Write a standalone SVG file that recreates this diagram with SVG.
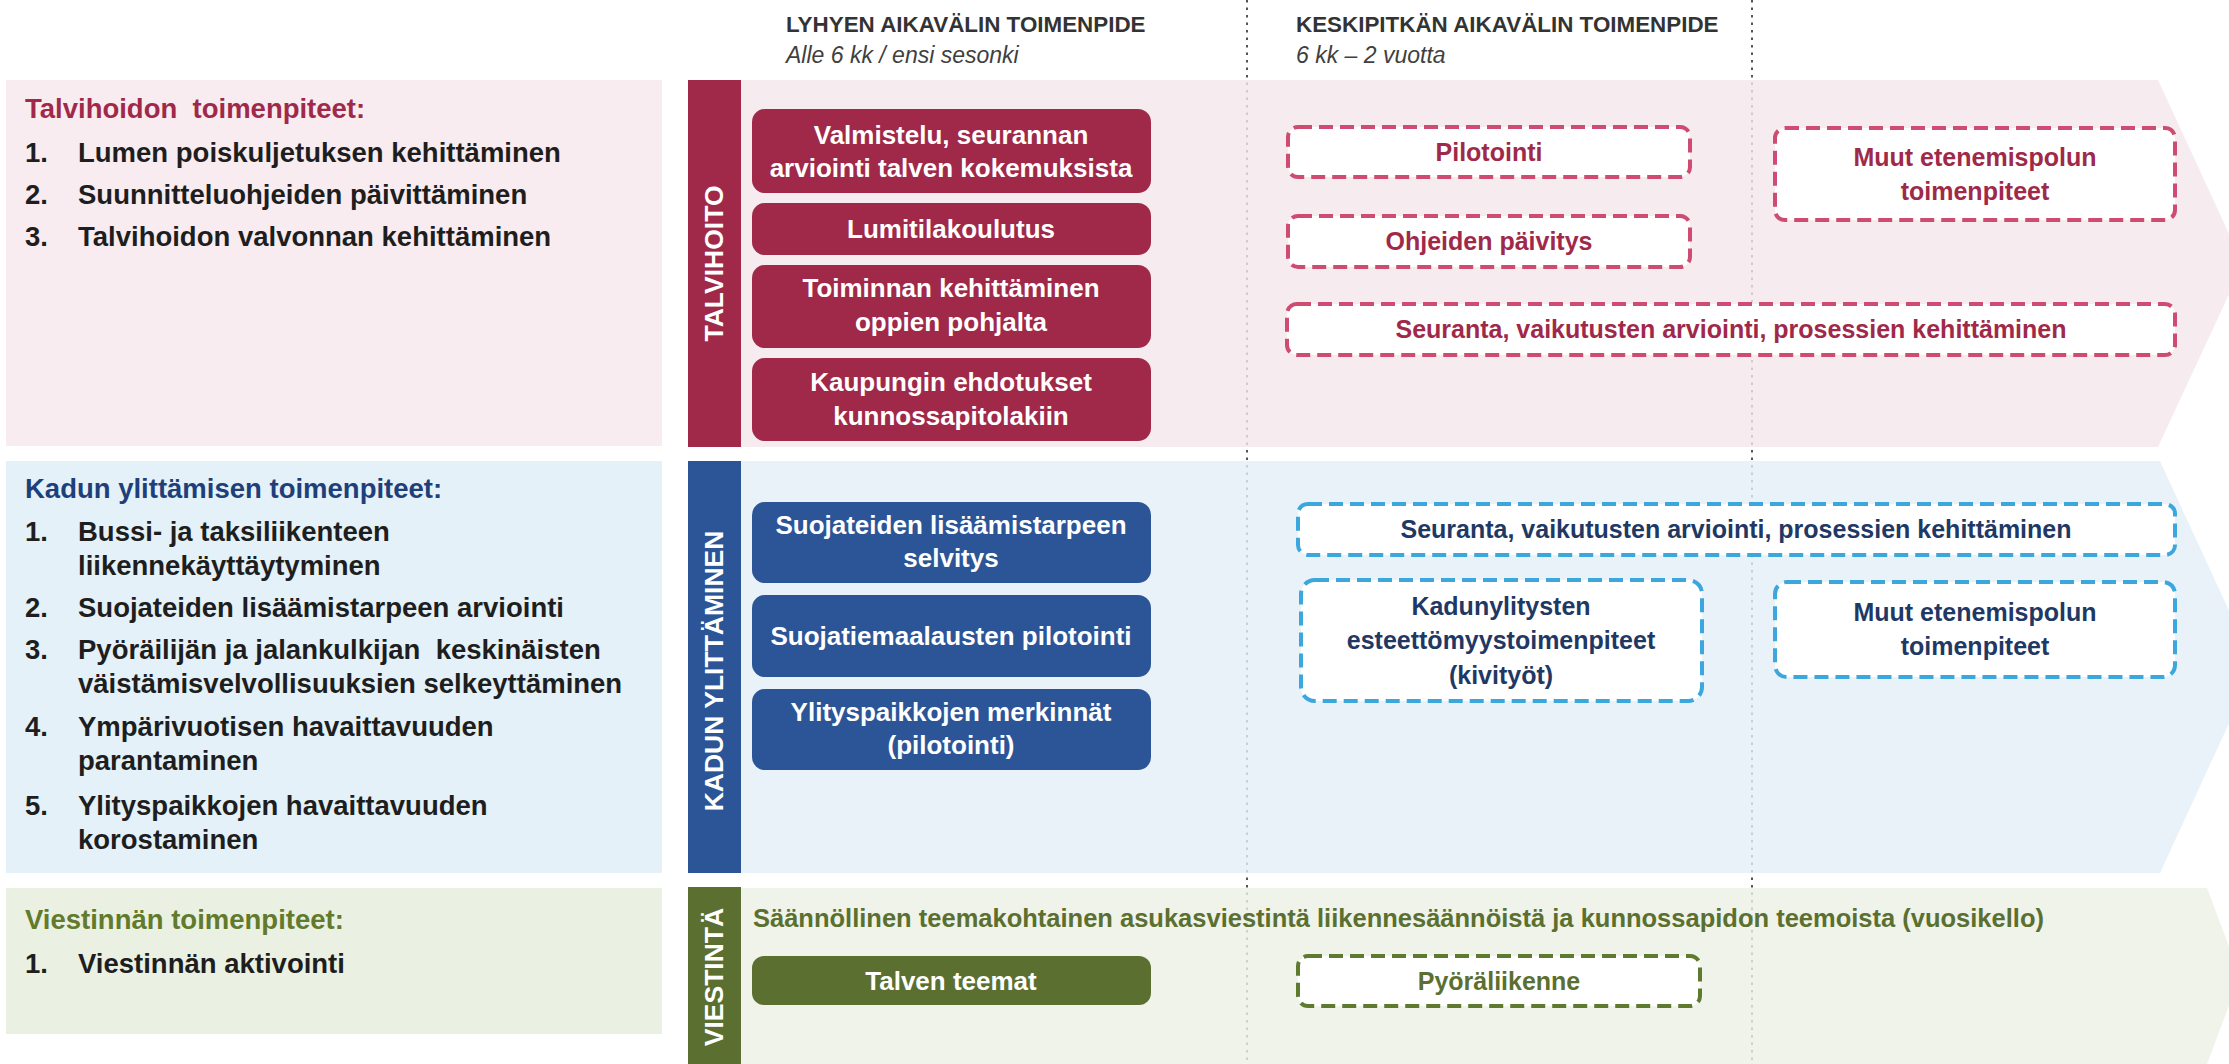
<svg xmlns="http://www.w3.org/2000/svg" width="2229" height="1064" viewBox="0 0 2229 1064">
<style>
text{font-family:"Liberation Sans",Arial,sans-serif;}
.hd{font-size:22.4px;font-weight:bold;fill:#333333;}
.sub{font-size:23px;font-style:italic;fill:#404040;}
.lt{font-size:27.5px;font-weight:bold;}
.li{font-size:27.5px;font-weight:bold;fill:#1e1e1e;}
.vl{font-size:26.5px;font-weight:bold;fill:#ffffff;text-anchor:middle;}
.bx{font-size:26px;font-weight:bold;fill:#ffffff;text-anchor:middle;}
.dt{font-size:25px;font-weight:bold;text-anchor:middle;}
.dash{fill:#ffffff;stroke-width:4;stroke-dasharray:14 7;}
.pk{fill:#A0294A;} .bl{fill:#2B5597;} .gr{fill:#5B7030;}
.dpk{stroke:#CF4B72;} .dbl{stroke:#3BA7DC;} .dgr{stroke:#5E7A2E;}
.tpk{fill:#A0294A;} .tbl{fill:#1F3864;} .tgr{fill:#5B7030;}
.div{stroke:#555555;stroke-width:2;stroke-dasharray:2.5 5;fill:none;}
</style>

<g id="dividers">
<line class="div" x1="1247" y1="0" x2="1247" y2="1064"/>
<line class="div" x1="1752" y1="0" x2="1752" y2="1064"/>
</g>

<g id="headers">
<text class="hd" x="786" y="32">LYHYEN AIKAVÄLIN TOIMENPIDE</text>
<text class="sub" x="786" y="63">Alle 6 kk / ensi sesonki</text>
<text class="hd" x="1296" y="32">KESKIPITKÄN AIKAVÄLIN TOIMENPIDE</text>
<text class="sub" x="1296" y="63">6 kk – 2 vuotta</text>
</g>

<g id="bands" fill-opacity="0.8">
<polygon points="741,80 2158,80 2243,264 2158,447 741,447" fill="#F4E6EB"/>
<polygon points="741,461 2160,461 2255,667 2160,873 741,873" fill="#E5EFF8"/>
<polygon points="741,888 2207,888 2240,976 2207,1064 741,1064" fill="#EBF0E4"/>
</g>

<g id="panel-talvihoito">
<rect x="6" y="80" width="656" height="366" fill="#F8ECF0"/>
<text class="lt" x="25" y="118" fill="#A0294A" xml:space="preserve">Talvihoidon  toimenpiteet:</text>
<text class="li" x="25" y="162">1.</text><text class="li" x="78" y="162">Lumen poiskuljetuksen kehittäminen</text>
<text class="li" x="25" y="204">2.</text><text class="li" x="78" y="204">Suunnitteluohjeiden päivittäminen</text>
<text class="li" x="25" y="246">3.</text><text class="li" x="78" y="246">Talvihoidon valvonnan kehittäminen</text>
</g>

<g id="panel-kadun">
<rect x="6" y="461" width="656" height="412" fill="#E4F1F8"/>
<text class="lt" x="25" y="498" fill="#1F3F7A">Kadun ylittämisen toimenpiteet:</text>
<text class="li" x="25" y="541">1.</text><text class="li" x="78" y="541">Bussi- ja taksiliikenteen</text>
<text class="li" x="78" y="575">liikennekäyttäytyminen</text>
<text class="li" x="25" y="617">2.</text><text class="li" x="78" y="617">Suojateiden lisäämistarpeen arviointi</text>
<text class="li" x="25" y="659">3.</text><text class="li" x="78" y="659" xml:space="preserve">Pyöräilijän ja jalankulkijan  keskinäisten</text>
<text class="li" x="78" y="693">väistämisvelvollisuuksien selkeyttäminen</text>
<text class="li" x="25" y="736">4.</text><text class="li" x="78" y="736">Ympärivuotisen havaittavuuden</text>
<text class="li" x="78" y="770">parantaminen</text>
<text class="li" x="25" y="815">5.</text><text class="li" x="78" y="815">Ylityspaikkojen havaittavuuden</text>
<text class="li" x="78" y="849">korostaminen</text>
</g>

<g id="panel-viestinta">
<rect x="6" y="888" width="656" height="146" fill="#EBF1E2"/>
<text class="lt" x="25" y="929" fill="#617A2C">Viestinnän toimenpiteet:</text>
<text class="li" x="25" y="973">1.</text><text class="li" x="78" y="973">Viestinnän aktivointi</text>
</g>

<g id="bar-talvihoito">
<rect class="pk" x="688" y="80" width="53" height="367"/>
<text class="vl" transform="translate(723,263.5) rotate(-90)">TALVIHOITO</text>
</g>
<g id="bar-kadun">
<rect class="bl" x="688" y="461" width="53" height="412"/>
<text class="vl" transform="translate(723,671) rotate(-90)">KADUN YLITTÄMINEN</text>
</g>
<g id="bar-viestinta">
<rect class="gr" x="688" y="887" width="53" height="177"/>
<text class="vl" transform="translate(723,977) rotate(-90)">VIESTINTÄ</text>
</g>

<g id="t-valmistelu">
<rect class="pk" x="752" y="109" width="399" height="84" rx="13"/>
<text class="bx" x="951" y="144">Valmistelu, seurannan</text>
<text class="bx" x="951" y="177">arviointi talven kokemuksista</text>
</g>
<g id="t-lumitila">
<rect class="pk" x="752" y="203" width="399" height="52" rx="13"/>
<text class="bx" x="951" y="238">Lumitilakoulutus</text>
</g>
<g id="t-toiminnan">
<rect class="pk" x="752" y="265" width="399" height="83" rx="13"/>
<text class="bx" x="951" y="297">Toiminnan kehittäminen</text>
<text class="bx" x="951" y="331">oppien pohjalta</text>
</g>
<g id="t-kaupungin">
<rect class="pk" x="752" y="358" width="399" height="83" rx="13"/>
<text class="bx" x="951" y="391">Kaupungin ehdotukset</text>
<text class="bx" x="951" y="425">kunnossapitolakiin</text>
</g>

<g id="t-pilotointi">
<rect class="dash dpk" x="1288" y="127" width="402" height="50" rx="10"/>
<text class="dt tpk" x="1489" y="161">Pilotointi</text>
</g>
<g id="t-ohjeiden">
<rect class="dash dpk" x="1288" y="216" width="402" height="51" rx="10"/>
<text class="dt tpk" x="1489" y="250">Ohjeiden päivitys</text>
</g>
<g id="t-muut">
<rect class="dash dpk" x="1775" y="128" width="400" height="92" rx="10"/>
<text class="dt tpk" x="1975" y="166">Muut etenemispolun</text>
<text class="dt tpk" x="1975" y="200">toimenpiteet</text>
</g>
<g id="t-seuranta">
<rect class="dash dpk" x="1287" y="304" width="888" height="51" rx="10"/>
<text class="dt tpk" x="1731" y="338">Seuranta, vaikutusten arviointi, prosessien kehittäminen</text>
</g>

<g id="k-suojateiden">
<rect class="bl" x="752" y="502" width="399" height="81" rx="13"/>
<text class="bx" x="951" y="534">Suojateiden lisäämistarpeen</text>
<text class="bx" x="951" y="567">selvitys</text>
</g>
<g id="k-suojatiemaalausten">
<rect class="bl" x="752" y="595" width="399" height="82" rx="13"/>
<text class="bx" x="951" y="645">Suojatiemaalausten pilotointi</text>
</g>
<g id="k-ylityspaikkojen">
<rect class="bl" x="752" y="689" width="399" height="81" rx="13"/>
<text class="bx" x="951" y="721">Ylityspaikkojen merkinnät</text>
<text class="bx" x="951" y="754">(pilotointi)</text>
</g>

<g id="k-seuranta">
<rect class="dash dbl" x="1298" y="504" width="877" height="51" rx="10"/>
<text class="dt tbl" x="1736" y="538">Seuranta, vaikutusten arviointi, prosessien kehittäminen</text>
</g>
<g id="k-kadunylitysten">
<rect class="dash dbl" x="1301" y="580" width="401" height="121" rx="14"/>
<text class="dt tbl" x="1501" y="615">Kadunylitysten</text>
<text class="dt tbl" x="1501" y="649">esteettömyystoimenpiteet</text>
<text class="dt tbl" x="1501" y="684">(kivityöt)</text>
</g>
<g id="k-muut">
<rect class="dash dbl" x="1775" y="582" width="400" height="95" rx="12"/>
<text class="dt tbl" x="1975" y="621">Muut etenemispolun</text>
<text class="dt tbl" x="1975" y="655">toimenpiteet</text>
</g>

<g id="v-saannollinen">
<text x="753" y="927" style="font-size:25.5px;font-weight:bold;" class="tgr">Säännöllinen teemakohtainen asukasviestintä liikennesäännöistä ja kunnossapidon teemoista (vuosikello)</text>
</g>
<g id="v-talven">
<rect class="gr" x="752" y="956" width="399" height="49" rx="12"/>
<text class="bx" x="951" y="990">Talven teemat</text>
</g>
<g id="v-pyoraliikenne">
<rect class="dash dgr" x="1298" y="956" width="402" height="50" rx="10"/>
<text class="dt tgr" x="1499" y="990">Pyöräliikenne</text>
</g>
</svg>
